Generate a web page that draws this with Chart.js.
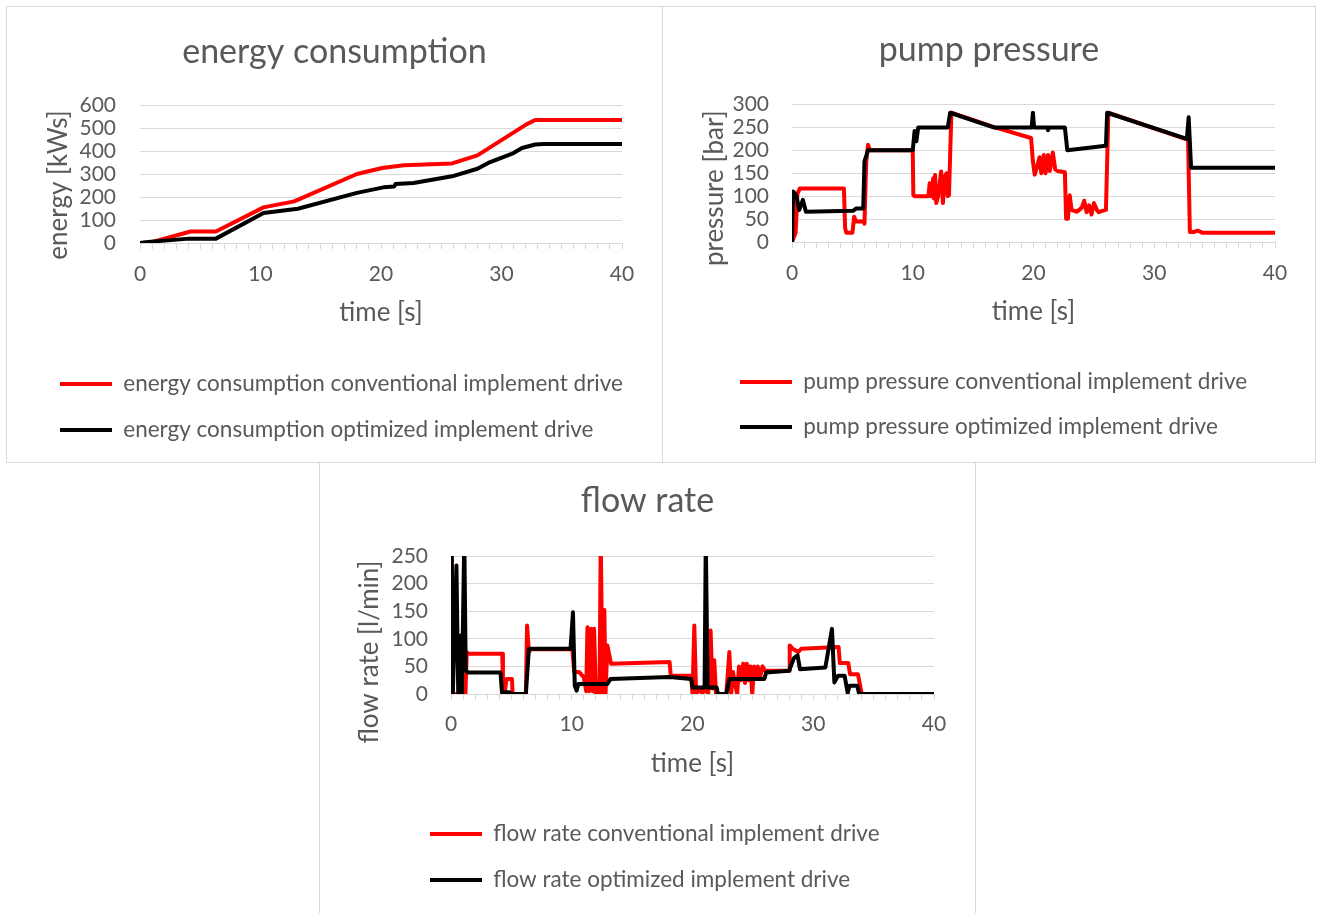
<!DOCTYPE html>
<html><head><meta charset="utf-8">
<script src="https://cdn.jsdelivr.net/npm/chart.js@4.4.1/dist/chart.umd.min.js"></script>
<style>
html,body{margin:0;padding:0;background:#fff;width:1317px;height:913px;overflow:hidden;position:relative}
.box{position:absolute;border:1px solid #d9d9d9;background:#fff}
.box canvas{position:absolute;left:0;top:0}
</style></head><body>
<div class="box" style="left:6px;top:6px;width:655px;height:455px"><canvas id="c1" width="655" height="455"></canvas></div>
<div class="box" style="left:662px;top:6px;width:652px;height:455px"><canvas id="c2" width="652" height="455"></canvas></div>
<div class="box" style="left:319px;top:462px;width:655px;height:452px"><canvas id="c3" width="655" height="450"></canvas></div>
<script>
// ---------- data ----------
const timeTicks = [0, 10, 20, 30, 40];
const energyTicks = [0, 100, 200, 300, 400, 500, 600];
const pressureTicks = [0, 50, 100, 150, 200, 250, 300];
const flowTicks = [0, 50, 100, 150, 200, 250];

const energyTimeConv = [0, 0.9, 4.2, 6.3, 10.25, 12.8, 18.0, 20.1, 21.9, 25.9, 28.0, 32.1, 32.8, 40];
const energyConv     = [0, 3, 50, 50, 155, 181, 300, 326, 338, 346, 381, 517, 535, 535];
const energyTimeOpt  = [0, 0.9, 4.1, 6.3, 10.25, 13.1, 18.0, 20.2, 21.1, 21.2, 22.7, 25.9, 28.0, 28.9, 31.0, 31.7, 32.8, 33.5, 40];
const energyOpt      = [0, 6, 19, 19, 130, 149, 218, 242, 246, 256, 261, 290, 323, 348, 391, 413, 428, 430, 430];

const pressureTimeConv = [0, 0.3, 0.45, 0.65, 4.3, 4.4, 4.5, 5.0, 5.15, 5.3, 5.95, 6.0, 6.15, 6.3, 6.45, 10.0, 10.05, 10.15, 11.3, 11.4, 11.5, 11.7, 11.75, 11.85, 11.95, 12.1, 12.35, 12.5, 12.65, 12.8, 12.9, 13.0, 13.2, 16.8, 19.8, 19.95, 20.1, 20.3, 20.5, 20.65, 20.85, 21.0, 21.2, 21.35, 21.6, 21.8, 22.0, 22.6, 22.7, 22.85, 23.0, 23.15, 23.6, 24.0, 24.2, 24.4, 24.6, 24.8, 25.0, 25.25, 25.4, 25.7, 26.0, 26.2, 32.8, 32.95, 33.3, 33.6, 34.0, 40];
const pressureConv     = [0, 20, 105, 117, 117, 30, 20, 20, 55, 45, 45, 40, 176, 212, 200, 200, 102, 100, 100, 128, 100, 139, 95, 146, 85, 100, 154, 85, 143, 150, 100, 102, 282, 250, 227, 176, 147, 165, 185, 150, 190, 150, 190, 155, 195, 158, 155, 152, 51, 51, 102, 70, 66, 75, 90, 65, 80, 60, 85, 70, 65, 68, 70, 282, 223, 22, 22, 25, 20, 20];
const pressureTimeOpt  = [0, 0.1, 0.35, 0.6, 0.9, 1.15, 5.05, 5.3, 5.9, 6.0, 6.3, 10.0, 10.15, 10.3, 10.45, 12.9, 13.1, 16.7, 19.85, 19.95, 20.05, 21.15, 21.2, 21.3, 22.6, 22.8, 26.0, 26.1, 32.7, 32.85, 33.05, 40];
const pressureOpt      = [0, 110, 102, 70, 92, 66, 68, 73, 73, 176, 200, 200, 242, 220, 250, 250, 282, 250, 250, 282, 250, 250, 244, 250, 250, 200, 210, 282, 225, 272, 162, 162];

const flowTimeConv = [0, 0.05, 0.15, 1.2, 1.3, 1.4, 4.24, 4.3, 4.45, 4.6, 5.05, 5.1, 6.2, 6.3, 6.45, 6.6, 10.05, 10.2, 10.6, 11.0, 11.2, 11.3, 11.45, 11.6, 11.75, 11.85, 12.0, 12.3, 12.4, 12.55, 12.7, 12.8, 12.95, 13.25, 18.1, 18.2, 19.9, 20.0, 20.15, 20.3, 20.6, 20.8, 21.0, 21.3, 21.5, 21.65, 21.8, 21.95, 22.8, 23.05, 23.2, 23.35, 23.5, 23.7, 23.85, 24.0, 24.2, 24.35, 24.5, 24.65, 24.8, 24.95, 25.1, 25.25, 25.4, 25.6, 25.8, 26.0, 28.0, 28.05, 28.3, 28.75, 29.0, 32.1, 32.2, 32.9, 33.05, 33.7, 34.0, 34.1, 40];
const flowConv     = [0, 280, 0, 0, 76, 73, 73, 27, 3, 27, 27, 0, 0, 124, 76, 81, 81, 40, 40, 30, 5, 121, 5, 118, 5, 118, 0, 0, 280, 0, 152, 0, 88, 55, 58, 33, 33, 0, 124, 0, 10, 0, 10, 0, 115, 10, 61, 0, 0, 76, 0, 40, 20, 0, 50, 25, 55, 20, 55, 25, 50, 0, 50, 30, 50, 30, 50, 42, 42, 88, 82, 76, 82, 85, 56, 56, 36, 36, 2, 0, 0];
const flowTimeOpt  = [0, 0.05, 0.15, 0.45, 0.6, 0.8, 0.9, 1.1, 1.22, 1.45, 4.1, 4.22, 4.8, 5.05, 6.2, 6.45, 9.9, 10.1, 10.25, 10.4, 10.55, 12.95, 13.2, 18.1, 19.9, 20.0, 21.0, 21.1, 21.25, 22.0, 22.1, 22.8, 23.05, 25.95, 26.1, 28.0, 28.4, 28.7, 28.9, 31.0, 31.2, 31.55, 31.75, 32.05, 32.6, 32.85, 33.0, 33.65, 33.8, 40];
const flowOpt      = [0, 280, 0, 233, 0, 106, 0, 280, 42, 39, 39, 3, 3, 0, 0, 82, 82, 148, 15, 6, 18, 18, 27, 31, 27, 12, 12, 280, 12, 12, 0, 0, 27, 27, 39, 42, 65, 70, 45, 48, 73, 118, 21, 33, 33, 2, 15, 15, 0, 0];

// ---------- styling / layout ----------
const FONT = "Lato, 'Liberation Sans', sans-serif";
const TXT = '#595959', GRID = '#d9d9d9';
const TITLE_F = 34, AXT_F = 26, TICK_F = 21, LEG_F = 22.5, TL = 6, PAD_L = 18, BOX_W = 52;
Chart.defaults.font.family = FONT;
Chart.defaults.color = TXT;

function makeChart(id, L, title, yTitle, yTicks, series) {
  const p = L.row - LEG_F;
  const legTop = L.leg1Y - p - LEG_F / 2;
  const legH = 2 * L.row + 10;
  const defGen = Chart.defaults.plugins.legend.labels.generateLabels;
  const placeBlocks = {
    id: 'placeBlocks',
    afterLayout(chart) {
      const t = chart.titleBlock;
      if (t) { t.left = 0; t.right = chart.width; t.width = chart.width; }
      const lg = chart.legend;
      if (lg) { const dx = (L.legX - p) - lg.left; lg.left += dx; lg.right += dx; }
      const ys = chart.scales.y;
      if (ys && !ys._shiftedTitle) {
        const orig = ys.drawTitle;
        ys.drawTitle = function () {
          this.ctx.save();
          this.ctx.translate(0, L.yTitleDy);
          orig.call(this);
          this.ctx.restore();
        };
        ys._shiftedTitle = true;
      }
    }
  };
  new Chart(document.getElementById(id), {
    type: 'line',
    data: {
      datasets: series.map(s => ({
        label: s.label,
        data: s.t.map((t, i) => ({ x: t, y: s.v[i] })),
        borderColor: s.color, backgroundColor: s.color,
        borderWidth: 4, pointRadius: 0, pointHoverRadius: 0, tension: 0, fill: false,
        order: s.order, borderJoinStyle: 'round', borderCapStyle: 'round'
      }))
    },
    options: {
      responsive: false, animation: false, devicePixelRatio: 1,
      events: [],
      layout: { padding: { left: PAD_L, right: L.W - L.right, top: 0, bottom: L.H - legTop - legH } },
      plugins: {
        title: {
          display: true, text: title, color: TXT,
          font: { size: TITLE_F, weight: 'normal' },
          padding: { top: L.titleY - TITLE_F * 0.6, bottom: L.top - L.titleY - TITLE_F * 0.6 }
        },
        legend: {
          position: 'bottom', align: 'start',
          labels: {
            boxWidth: BOX_W, boxHeight: 4, padding: p, color: TXT,
            font: { size: LEG_F },
            generateLabels: chart => defGen(chart).map(l => Object.assign(l, { lineWidth: 0 })),
            sort: (a, b) => a.datasetIndex - b.datasetIndex
          }
        },
        tooltip: { enabled: false }
      },
      scales: {
        x: {
          type: 'linear', min: timeTicks[0], max: timeTicks[timeTicks.length - 1],
          afterFit: s => { s.height = legTop - L.bottom; },
          grid: { drawOnChartArea: false, drawTicks: true, tickLength: TL, color: GRID },
          border: { display: true, color: GRID, width: 1 },
          ticks: {
            stepSize: 1, autoSkip: false, maxRotation: 0, color: TXT,
            padding: L.xLabelY - L.bottom - TL - TICK_F * 0.6,
            font: { size: TICK_F },
            callback: v => timeTicks.includes(v) ? String(v) : ''
          },
          title: {
            display: true, text: 'time [s]', color: TXT, font: { size: AXT_F },
            padding: { top: 0, bottom: legTop - L.xTitleY - AXT_F * 0.6 }
          }
        },
        y: {
          min: yTicks[0], max: yTicks[yTicks.length - 1],
          afterFit: s => { s.width = L.left - PAD_L; },
          grid: { color: GRID, drawTicks: false, lineWidth: 1 },
          border: { display: false },
          ticks: { stepSize: yTicks[1] - yTicks[0], autoSkip: false, padding: L.left - L.yLabelR, font: { size: TICK_F }, color: TXT },
          title: {
            display: true, text: yTitle, color: TXT, font: { size: AXT_F },
            padding: { top: L.yTitleX - PAD_L - AXT_F * 0.6, bottom: 0 }
          }
        }
      }
    },
    plugins: [placeBlocks]
  });
}

makeChart('c1',
  { W: 655, H: 455, titleY: 45, top: 98, bottom: 236, left: 133, right: 615, xLabelY: 267, xTitleY: 306, leg1Y: 377, row: 46, legX: 53, yTitleX: 52, yTitleDy: 11, yLabelR: 109 },
  'energy consumption', 'energy [kWs]', energyTicks,
  [
    { label: 'energy consumption conventional implement drive', t: energyTimeConv, v: energyConv, color: '#ff0000', order: 1 },
    { label: 'energy consumption optimized implement drive', t: energyTimeOpt, v: energyOpt, color: '#000000', order: 0 }
  ]);

makeChart('c2',
  { W: 652, H: 455, titleY: 43, top: 97.5, bottom: 235, left: 129, right: 612, xLabelY: 266, xTitleY: 305, leg1Y: 375, row: 45, legX: 77, yTitleX: 52, yTitleDy: 15, yLabelR: 106 },
  'pump pressure', 'pressure [bar]', pressureTicks,
  [
    { label: 'pump pressure conventional implement drive', t: pressureTimeConv, v: pressureConv, color: '#ff0000', order: 1 },
    { label: 'pump pressure optimized implement drive', t: pressureTimeOpt, v: pressureOpt, color: '#000000', order: 0 }
  ]);

makeChart('c3',
  { W: 655, H: 450, titleY: 38, top: 93, bottom: 231, left: 131, right: 614, xLabelY: 261, xTitleY: 301, leg1Y: 371, row: 46, legX: 110, yTitleX: 50, yTitleDy: 27, yLabelR: 108 },
  'flow rate', 'flow rate [l/min]', flowTicks,
  [
    { label: 'flow rate conventional implement drive', t: flowTimeConv, v: flowConv, color: '#ff0000', order: 1 },
    { label: 'flow rate optimized implement drive', t: flowTimeOpt, v: flowOpt, color: '#000000', order: 0 }
  ]);
</script>
</body></html>
